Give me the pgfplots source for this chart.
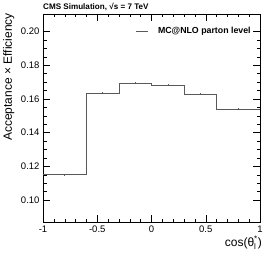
\documentclass[border=0pt]{standalone}
\usepackage{pgfplots}
\pgfplotsset{compat=1.18}
\usepackage{fontspec}
\setmainfont{Liberation Sans}
\definecolor{histc}{gray}{0.35}
\begin{document}
\begin{tikzpicture}
\begin{axis}[
  scale only axis,
  width=217pt, height=208pt,
  xmin=-1, xmax=1, ymin=0.087, ymax=0.2104,
  /pgf/number format/assume math mode=true,
  xtick={-1,-0.5,0,0.5,1},
  xticklabels={-1,-0.5,0,0.5,1},
  ytick={0.10,0.12,0.14,0.16,0.18,0.20},
  yticklabels={0.10,0.12,0.14,0.16,0.18,0.20},
  minor x tick num=4,
  minor y tick num=3,
  tick align=inside,
  major tick length=7pt, minor tick length=3.5pt,
  xtick pos=both, ytick pos=both,
  tick style={black, line width=0.4pt},
  ticklabel style={font=\fontsize{9.5}{10}\selectfont},
  axis line style={black, line width=0.5pt},
  legend style={draw=none, fill=none, font=\bfseries\fontsize{8.8}{9}\selectfont, at={(0.958,0.918)}, anchor=east, inner sep=0pt, row sep=0pt, nodes={inner sep=0pt}},
  legend cell align=left,
  legend image code/.code={\draw[histc, line width=0.6pt] (0pt,0pt) -- (12pt,0pt);},
  clip=false,
]
\addplot[histc, line width=0.6pt, const plot mark left] coordinates {
  (-1,0.1151) (-0.6,0.1633) (-0.3,0.1693) (0,0.1683) (0.3,0.1630) (0.6,0.1540) (1,0.1540)
};
\addlegendentry{\hspace{10pt}MC@NLO parton level}
\addplot[histc, line width=0.5pt, draw=none, mark=none, forget plot,
  error bars/.cd, y dir=both, y explicit, error bar style={histc, line width=0.5pt}, error mark=none]
  coordinates {
  (-0.8,0.1151) +- (0,0.0006)
  (-0.45,0.1633) +- (0,0.0006)
  (-0.15,0.1693) +- (0,0.0006)
  (0.15,0.1683) +- (0,0.0006)
  (0.45,0.1630) +- (0,0.0006)
  (0.8,0.1540) +- (0,0.0006)
};
\coordinate (sw) at (rel axis cs:0,0);
\coordinate (ne) at (rel axis cs:1,1);
\coordinate (nw) at (rel axis cs:0,1);
\coordinate (se) at (rel axis cs:1,0);
\end{axis}
\node[anchor=south west, inner sep=0pt, font=\bfseries\fontsize{8.1}{9}\selectfont] at ([yshift=3pt]nw) {CMS Simulation, √s = 7 TeV};
\node[anchor=base east, inner sep=0pt, font=\fontsize{12}{13}\selectfont] at ([xshift=2pt,yshift=-24pt]se) {cos(θ$^{\mbox{\fontsize{8}{8}\selectfont *}}_{\mbox{\fontsize{8}{8}\selectfont l}}$)};
\node[rotate=90, anchor=base east, inner sep=0pt, font=\fontsize{12}{13}\selectfont] at ([xshift=-31pt,yshift=1pt]nw) {Acceptance × Efficiency};
\pgfresetboundingbox
\path ([xshift=-43pt,yshift=-35pt]sw) rectangle ([xshift=10pt,yshift=14pt]ne);
\end{tikzpicture}
\end{document}
